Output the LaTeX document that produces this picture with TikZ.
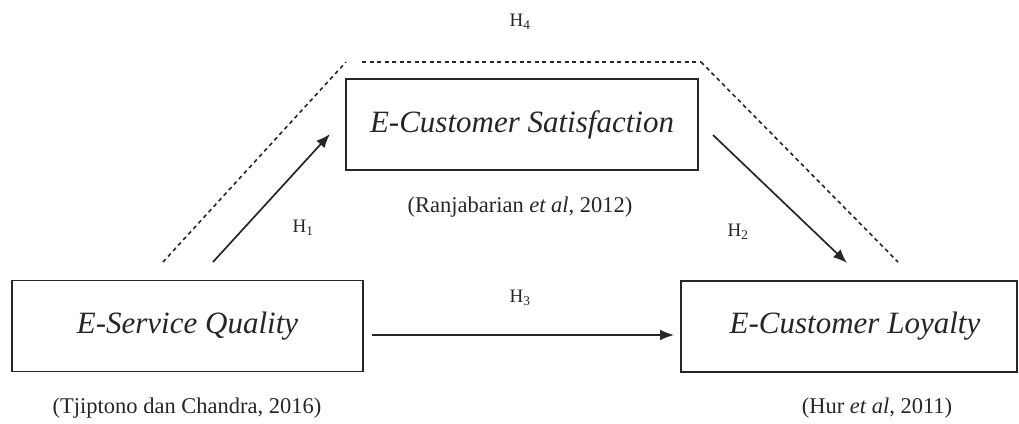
\documentclass[tikz,border=0pt]{standalone}
\usepackage{fontspec}
\setmainfont{Liberation Serif}
\usetikzlibrary{arrows.meta}
\begin{document}
\begin{tikzpicture}[x=1pt,y=-1pt,
  box/.style={draw=black!85, line width=1.4pt, minimum width=#1, minimum height=91pt, inner sep=0pt, font=\fontsize{31}{36}\selectfont\itshape, text=black!85},
  cite/.style={font=\fontsize{22.5}{26}\selectfont, text=black!85},
  hlab/.style={font=\fontsize{19}{22}\selectfont, text=black!85},
  arr/.style={draw=black!85, line width=1.7pt, -{Latex[length=14pt,width=11pt]}},
  dsh/.style={draw=black!85, line width=1.6pt, dash pattern=on 4pt off 3.5pt}]
\useasboundingbox (0,0) rectangle (1019,423);
\node[box=351pt] (esq) at (187.5,326) {E-Service Quality};
\node[box=352pt] (ecs) at (522,124.5) {E-Customer Satisfaction};
\node[box=336pt] (ecl) at (849,326.5) {\hspace*{12pt}E-Customer Loyalty};
\node[cite] (c1) at (187,408) {(Tjiptono dan Chandra, 2016)};
\node[cite] (c2) at (520,207) {(Ranjabarian \textit{et al}, 2012)};
\node[cite] (c3) at (877,408) {(Hur \textit{et al}, 2011)};
\node[hlab] (h1) at (303,228) {H\textsubscript{1}};
\node[hlab] (h2) at (738,232) {H\textsubscript{2}};
\node[hlab] (h3) at (520,298) {H\textsubscript{3}};
\node[hlab] (h4) at (520,22) {H\textsubscript{4}};
\coordinate (a1s) at (213,262);
\coordinate (a1e) at (330,134);
\coordinate (a2s) at (713,135);
\coordinate (a2e) at (847,263);
\coordinate (a3s) at (372,335);
\coordinate (a3e) at (674,335);
\draw[arr] (a1s) -- (a1e);
\draw[arr] (a2s) -- (a2e);
\draw[arr] (a3s) -- (a3e);
\coordinate (d1) at (163,262);
\coordinate (d2) at (346,62);
\coordinate (d2b) at (362,62);
\coordinate (d3) at (701,62);
\coordinate (d4) at (898,262);
\draw[dsh] (d1) -- (d2);
\draw[dsh] (d2b) -- (d3);
\draw[dsh] (d3) -- (d4);
\end{tikzpicture}
\end{document}
